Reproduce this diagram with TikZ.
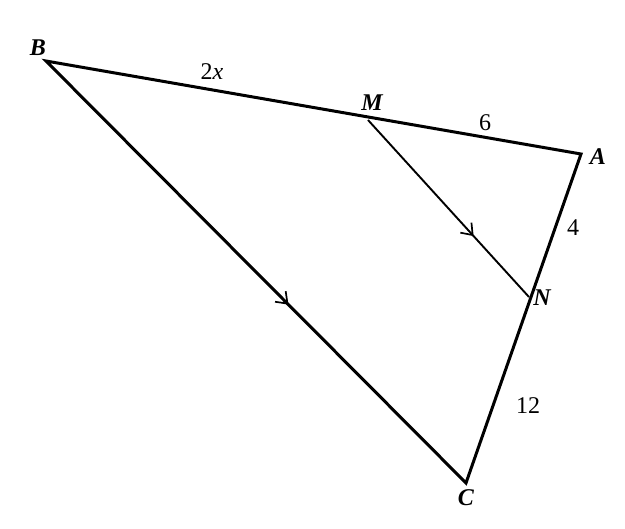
\documentclass[tikz,border=0pt]{standalone}
\usepackage{fontspec}
\setmainfont{Liberation Serif}
\usetikzlibrary{decorations.markings}
\begin{document}
\begin{tikzpicture}[x=1pt,y=-1pt,
  side/.style={line width=3pt,line join=miter},
  par/.style={line width=1.9pt},
  chev/.style={postaction={decorate},decoration={markings,mark=at position #1 with {\draw[line width=1.7pt,line join=miter] (-10pt,-7.5pt) -- (0pt,0pt) -- (-10pt,7.5pt);}}},
  vlab/.style={font=\fontsize{24}{28}\selectfont\bfseries\itshape},
  nlab/.style={font=\fontsize{24}{28}\selectfont}]
\useasboundingbox (0,0) rectangle (625,529);
\coordinate (B) at (46,61);
\coordinate (A) at (581,154);
\coordinate (C) at (466,483);
\coordinate (M) at (368,120);
\coordinate (N) at (529,297);
\draw[side] (B) -- (A) -- (C) -- cycle;
\path[chev=0.575] (B) -- (C);
\draw[par,chev=0.65] (M) -- (N);
\node[vlab] (lB) at (38,48) {B};
\node[vlab] (lM) at (372,103) {M};
\node[vlab] (lA) at (598,157) {A};
\node[vlab] (lN) at (542,298) {N};
\node[vlab] (lC) at (466,498) {C};
\node[nlab] (l2x) at (212,72) {2\textit{x}};
\node[nlab] (l6) at (485,123) {6};
\node[nlab] (l4) at (573,228) {4};
\node[nlab] (l12) at (528,406) {12};
\end{tikzpicture}
\end{document}
